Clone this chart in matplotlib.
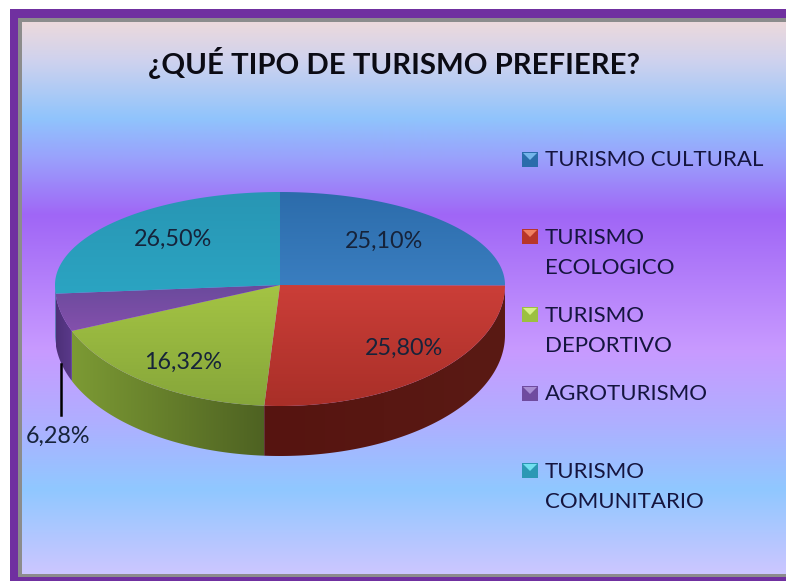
import matplotlib
matplotlib.use('Agg')
import matplotlib.pyplot as plt
from matplotlib.patches import Polygon, Rectangle
from matplotlib.colors import to_rgb
import numpy as np

# data
title = '¿QUÉ TIPO DE TURISMO PREFIERE?'
categories = ['TURISMO CULTURAL', 'TURISMO\nECOLOGICO', 'TURISMO\nDEPORTIVO', 'AGROTURISMO', 'TURISMO\nCOMUNITARIO']
values = [25.10, 25.80, 16.32, 6.28, 26.50]
value_labels = ['25,10%', '25,80%', '16,32%', '6,28%', '26,50%']

# styles
top_colors = [('#2c6cab', '#3a7ec0'), ('#cb3e38', '#a92f28'), ('#a4c444', '#86a63a'), ('#6a4a9c', '#8450ac'), ('#2896b4', '#2ba4c2')]
side_colors = [('#1f4f80', '#1f4f80'), ('#561410', '#5a1a14'), ('#7c9a34', '#4e6222'), ('#4d3078', '#5b3a8c'), ('#1d6d84', '#1d6d84')]
key_colors = ['#2b6cab', '#b8362a', '#9cc040', '#6f4b9f', '#2b98b4']
key_tops = ['#74b4ea', '#f08060', '#d8f088', '#a88ed4', '#70e0f0']
label_pos = [(384, 241), (404, 348), (183, 362), (58, 436), (173, 239)]
legend_y = [159, 236, 314, 393, 470]
bg_stops_y = [22, 60, 118, 160, 215, 350, 420, 490, 575]
bg_stops_c = ['#ecd9dc', '#cfd2ee', '#90c4fc', '#9a9ffc', '#a066f6', '#c89aff', '#b0aeff', '#90c8ff', '#cdc6ff']

cx, cy = 280, 285
rx, ry_up, ry_down = 225, 93, 121
depth = 50


def project(theta):
    # theta clockwise from 12 o'clock, lower half of the disc is nearer so it gets bigger
    theta = theta + 0.12 * np.sin(2 * theta)  # tilt squeezes the angles
    c = np.cos(theta)
    x = cx + rx * np.sin(theta)
    y = cy - np.where(c > 0, ry_up, ry_down) * c
    return x, y


def gradient(c0, c1, horizontal=False, n=128):
    t = np.linspace(0, 1, n)[:, None]
    g = (1 - t) * np.array(to_rgb(c0)) + t * np.array(to_rgb(c1))
    return g.reshape(1, n, 3) if horizontal else g.reshape(n, 1, 3)


fig = plt.figure(figsize=(7.86, 5.81), dpi=100, facecolor='white')
ax = fig.add_axes([0, 0, 1, 1])
ax.axis('off')

# frame and background
ax.add_patch(Rectangle((10, 9), 776, 572, color='#7030a0', lw=0, zorder=0))
ax.add_patch(Rectangle((18, 18), 768, 559, color='#8c8c8c', lw=0, zorder=0.5))
rows = np.arange(22, 575)
bg_rgb = np.array([to_rgb(c) for c in bg_stops_c])
bg = np.stack([np.interp(rows, bg_stops_y, bg_rgb[:, i]) for i in range(3)], axis=1)[:, None, :]
ax.imshow(bg, extent=(22, 786, 574, 22), aspect='auto', zorder=1)

# slices
edges = np.cumsum([0] + values) / sum(values) * 2 * np.pi
order = [3, 4, 0, 2, 1]  # far to near so the walls overlap properly
for i in order:
    t = np.linspace(edges[i], edges[i + 1], 120)
    x, y = project(t)
    low = y > cy - 1
    if low.sum() > 1:
        x, y = x[low], y[low]
        wall = Polygon(np.r_[np.c_[x, y], np.c_[x, y + depth][::-1]], closed=True, transform=ax.transData)
        im = ax.imshow(gradient(*side_colors[i], horizontal=True), extent=(x.min(), x.max(), y.max() + depth, y.min()),
                       aspect='auto', zorder=2 + order.index(i) * 0.1)
        im.set_clip_path(wall)

for i in range(len(values)):
    t = np.linspace(edges[i], edges[i + 1], 200)
    x, y = project(t)
    pts = np.r_[[[cx, cy]], np.c_[x, y]]
    top = Polygon(pts, closed=True, transform=ax.transData)
    im = ax.imshow(gradient(*top_colors[i]), extent=(pts[:, 0].min(), pts[:, 0].max(), pts[:, 1].max(), pts[:, 1].min()),
                   aspect='auto', zorder=3)
    im.set_clip_path(top)

# value labels
for (lx, ly), s in zip(label_pos, value_labels):
    ax.text(lx, ly, s, fontsize=16.8, family='Lato', color='#16233a', ha='center', va='center', zorder=5)
ax.plot([61, 61], [364, 415], color='black', lw=1.8, zorder=5)

# legend, entries are not evenly spaced in the original
for cat, y0, kc, kt in zip(categories, legend_y, key_colors, key_tops):
    ax.add_patch(Rectangle((522, y0 - 7), 16, 15, color=kc, lw=0, zorder=5))
    ax.add_patch(Polygon([(523, y0 - 6), (537, y0 - 6), (530, y0 + 1)], closed=True, color=kt, lw=0, zorder=5.1))
    text_y = y0 + 17 if '\n' in cat else y0 + 1
    ax.text(545, text_y, cat, fontsize=16, family='Lato', color='#15153f', ha='left', va='center',
            linespacing=1.6, zorder=5)

ax.text(394, 63, title, fontsize=21.2, family='Lato', fontweight='bold', color='#0b0b14', ha='center', va='center', zorder=5)

ax.set_xlim(0, 786)
ax.set_ylim(581, 0)
fig.savefig('out.png', dpi=100)
